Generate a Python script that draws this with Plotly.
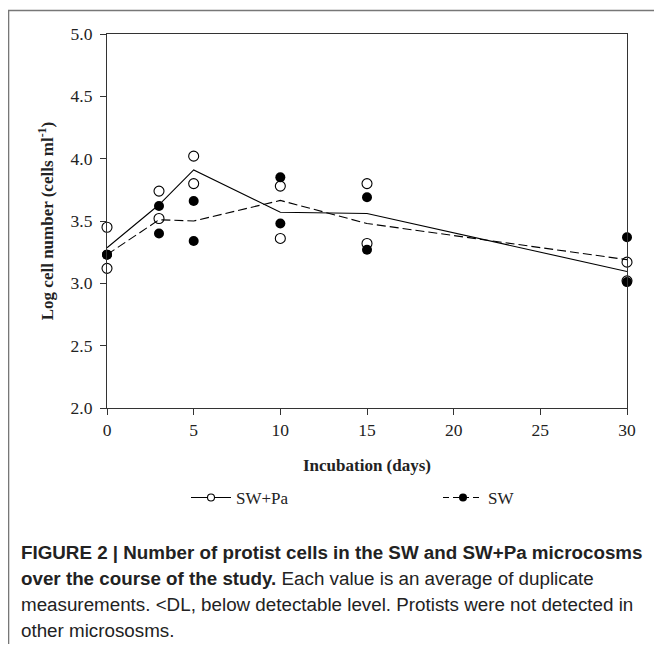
import numpy as np
import plotly.graph_objects as go

days = [0, 3, 5, 10, 15, 30]
swpa_rep1 = [3.45, 3.74, 4.02, 3.78, 3.80, 3.17]
swpa_rep2 = [3.12, 3.52, 3.80, 3.36, 3.32, 3.02]
sw_rep1 = [3.23, 3.62, 3.66, 3.85, 3.69, 3.37]
sw_rep2 = [3.23, 3.40, 3.34, 3.48, 3.27, 3.01]

x_ticks = [0, 5, 10, 15, 20, 25, 30]
y_ticks = [2.0, 2.5, 3.0, 3.5, 4.0, 4.5, 5.0]

swpa_mean = np.mean([swpa_rep1, swpa_rep2], axis=0)
sw_mean = np.mean([sw_rep1, sw_rep2], axis=0)

# page offset (browser body margin)
OX, OY = 8, 8
W, H = 662 - OX, 645 - OY - 1
# plot area in screen pixels
L, R, T, B = 107, 627, 33.5, 408
pw, ph = R - L, B - T


def px(x):
    return (x - L) / pw


def py(y):
    return (B - y) / ph


serif = "Liberation Serif"
sans = "Liberation Sans"
dash = "9px,4px"

fig = go.Figure()
# mean lines
fig.add_trace(go.Scatter(x=days, y=swpa_mean, mode="lines",
                         line=dict(color="black", width=1.1), showlegend=False))
fig.add_trace(go.Scatter(x=days, y=sw_mean, mode="lines",
                         line=dict(color="black", width=1.1, dash=dash), showlegend=False))
# replicate points
for reps in (swpa_rep1, swpa_rep2):
    fig.add_trace(go.Scatter(x=days, y=reps, mode="markers", showlegend=False,
                             marker=dict(symbol="circle-open", size=10, color="black",
                                         line=dict(width=1.1, color="black")),
                             cliponaxis=False))
for reps in (sw_rep1, sw_rep2):
    fig.add_trace(go.Scatter(x=days, y=reps, mode="markers", showlegend=False,
                             marker=dict(symbol="circle", size=10, color="black"),
                             cliponaxis=False))
# legend entries
fig.add_trace(go.Scatter(x=[None], y=[None], mode="lines+markers", name="SW+Pa",
                         legend="legend",
                         line=dict(color="black", width=1.1),
                         marker=dict(symbol="circle", size=7, color="white",
                                     line=dict(width=1.1, color="black"))))
fig.add_trace(go.Scatter(x=[None], y=[None], mode="lines+markers", name="SW",
                         legend="legend2",
                         line=dict(color="black", width=1.1, dash="6px,4px"),
                         marker=dict(symbol="circle", size=8, color="black")))

axis_common = dict(showline=True, linecolor="#333", linewidth=1.2, mirror=True,
                   ticks="outside", ticklen=6, tickwidth=1, tickcolor="#333",
                   showgrid=False, zeroline=False,
                   tickfont=dict(family=serif, size=17.5, color="#222"))

fig.update_xaxes(range=[0, 30], tickvals=x_ticks, ticktext=[str(v) for v in x_ticks],
                 title=dict(text="<b>Incubation (days)</b>",
                            font=dict(family=serif, size=17, color="#222"), standoff=20),
                 **axis_common)
fig.update_yaxes(range=[2, 5], tickvals=y_ticks, ticktext=[f"{v:.1f}" for v in y_ticks],
                 ticklabelstandoff=4,
                 title=dict(text="<b>Log cell number (cells ml<sup>-1</sup>)</b>",
                            font=dict(family=serif, size=17, color="#222"), standoff=12),
                 **axis_common)

leg_common = dict(orientation="h", xanchor="left", yanchor="middle",
                  font=dict(family=serif, size=17, color="#222"),
                  bgcolor="rgba(0,0,0,0)", itemwidth=40)
fig.update_layout(
    legend=dict(x=px(186), y=py(498), **leg_common),
    legend2=dict(x=px(438), y=py(498), **leg_common),
)

# outer frame (top and left edges)
fig.add_shape(type="path", xref="paper", yref="paper",
              path=f"M {px(680)} {py(10)} L {px(8.5)} {py(10)} L {px(8.5)} {py(700)}",
              line=dict(color="#777", width=1.6))

caption = [
    "<b>FIGURE 2 | Number of protist cells in the SW and SW+Pa microcosms</b>",
    "<b>over the course of the study.</b> Each value is an average of duplicate",
    "measurements. &lt;DL, below detectable level. Protists were not detected in",
    "other micrososms.",
]
cap_y = [553, 579, 605, 631]
for txt, yy in zip(caption, cap_y):
    fig.add_annotation(x=px(19), y=py(yy), xref="paper", yref="paper",
                       text=txt, showarrow=False, xanchor="left", yanchor="middle",
                       font=dict(family=sans, size=18.8, color="#222"))

fig.update_layout(
    width=W, height=H,
    margin=dict(l=L - OX, r=662 - R, t=T - OY, b=H - (B - OY), pad=0),
    plot_bgcolor="white", paper_bgcolor="white",
)

fig.write_html("out.html")
